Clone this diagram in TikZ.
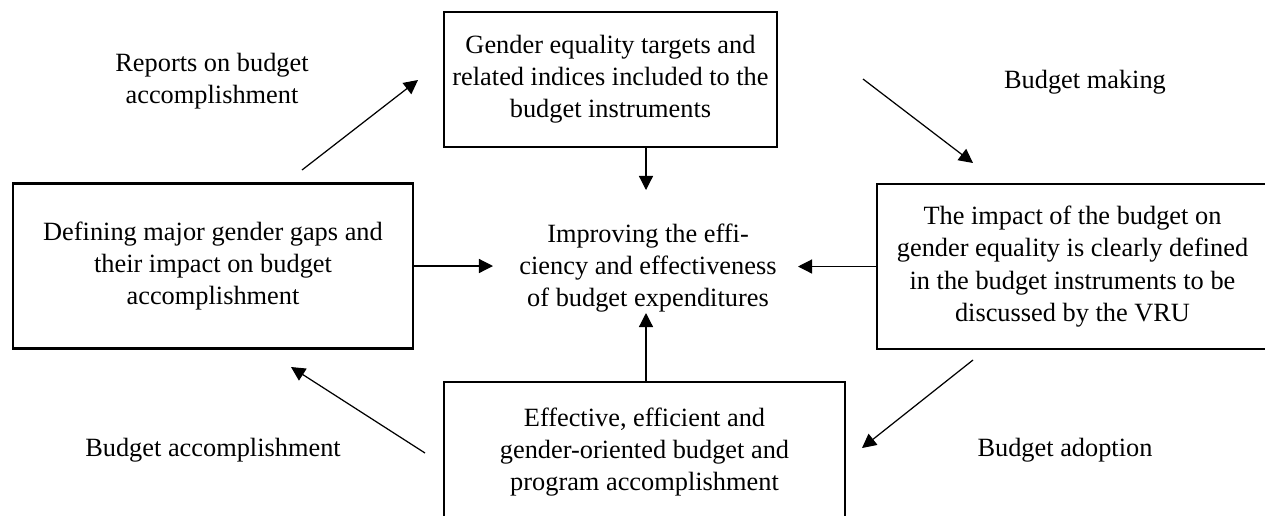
\documentclass[tikz,border=0pt]{standalone}
\usepackage{fontspec}
\setmainfont{Liberation Serif}
\usetikzlibrary{arrows.meta}
\tikzset{
  gbox/.style={draw, line width=1.3pt, align=center, inner sep=0pt, font=\fontsize{15}{18.3}\selectfont},
  lbl/.style={align=center, font=\fontsize{15}{18.3}\selectfont},
  arr/.style={-{Triangle[length=8pt,width=8pt]}, line width=0.7pt}
}
\begin{document}
\begin{tikzpicture}[x=0.02cm, y=-0.02cm]
    \useasboundingbox (0,0) rectangle (1265,515);

    % Boxes of the cycle
    \node[gbox, minimum width=6.66cm, minimum height=2.7cm] (targets) at (610.5,79.5) {Gender equality targets and\\related indices included to the\\budget instruments};
    \node[gbox, minimum width=8cm, minimum height=3.3cm] (gaps) at (213,266) {Defining major gender gaps and\\their impact on budget\\accomplishment};
    \node[gbox, minimum width=7.82cm, minimum height=3.3cm] (impact) at (1072.5,266.5) {The impact of the budget on\\gender equality is clearly defined\\in the budget instruments to be\\discussed by the VRU};
    \node[gbox, minimum width=8.02cm, minimum height=2.8cm] (result) at (644.5,452) {Effective, efficient and\\gender-oriented budget and\\program accomplishment};

    % Goal in the middle
    \node[lbl] (goal) at (648,268) {Improving the effi-\\ciency and effectiveness\\of budget expenditures};

    % Stage labels
    \node[lbl] (reports) at (212,81) {Reports on budget\\accomplishment};
    \node[lbl] (making) at (1085,82) {Budget making};
    \node[lbl] (adoption) at (1065,450) {Budget adoption};
    \node[lbl] (done) at (213,450) {Budget accomplishment};

    % Arrows into the goal
    \coordinate (goalN) at (646,190);
    \coordinate (goalS) at (646,313);
    \coordinate (goalW) at (493,266);
    \coordinate (goalE) at (798,266.5);
    \draw[arr] (targets.south -| goalN) -- (goalN);
    \draw[arr] (result.north -| goalS) -- (goalS);
    \draw[arr] (gaps.east) -- (goalW);
    \draw[arr] (impact.west) -- (goalE);

    % Cycle arrows
    \coordinate (r1) at (302,170);
    \coordinate (r2) at (418,80);
    \draw[arr] (r1) -- (r2);
    \coordinate (m1) at (863,79);
    \coordinate (m2) at (973,163);
    \draw[arr] (m1) -- (m2);
    \coordinate (a1) at (973,360);
    \coordinate (a2) at (862,448);
    \draw[arr] (a1) -- (a2);
    \coordinate (d1) at (425,453);
    \coordinate (d2) at (291,367);
    \draw[arr] (d1) -- (d2);

\end{tikzpicture}
\end{document}
